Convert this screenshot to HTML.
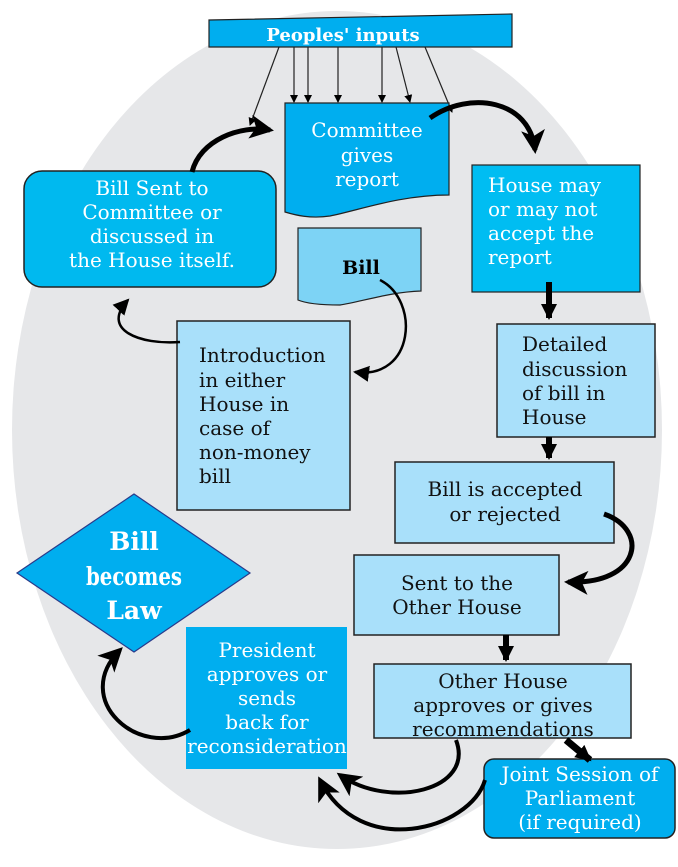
<!DOCTYPE html>
<html><head><style>html,body{margin:0;padding:0;background:#fff}svg{display:block}</style></head>
<body>
<svg width="678" height="867" viewBox="0 0 678 867" xmlns="http://www.w3.org/2000/svg" font-family="'DejaVu Serif', serif">
<defs>
<marker id="sa" markerWidth="8" markerHeight="8" refX="7" refY="4" orient="auto" markerUnits="userSpaceOnUse"><path d="M0,0 L8,4 L0,8 Z" fill="#000"/></marker>
<marker id="ba" markerWidth="30" markerHeight="30" refX="20" refY="12" orient="auto" markerUnits="userSpaceOnUse"><path d="M0,0 L24,12 L0,24 L6,12 Z" fill="#000"/></marker>
<marker id="ma" markerWidth="20" markerHeight="20" refX="14" refY="8" orient="auto" markerUnits="userSpaceOnUse"><path d="M0,0 L16,8 L0,16 Z" fill="#000"/></marker>
</defs>
<ellipse cx="337" cy="430" rx="325" ry="419" fill="#e6e7e9"/>

<polygon points="209,20 512,14 512,47 209,47" fill="#00aeef" stroke="#222" stroke-width="1.2"/>
<text x="343" y="41" fill="#fff" font-weight="bold" font-size="18" text-anchor="middle">Peoples' inputs</text>
<g stroke="#222" stroke-width="1.2" marker-end="url(#sa)">
<line x1="279" y1="47" x2="250" y2="125"/>
<line x1="294" y1="47" x2="294" y2="102"/>
<line x1="308" y1="47" x2="308" y2="102"/>
<line x1="338" y1="47" x2="338" y2="102"/>
<line x1="382" y1="47" x2="382" y2="102"/>
<line x1="396" y1="47" x2="410" y2="102"/>
<line x1="425" y1="47" x2="452" y2="112"/>
</g>

<path d="M285,103 L449,103 L449,195 C400,195 360,210 330,216 C310,219 295,215 285,212 Z" fill="#00aeef" stroke="#222" stroke-width="1.2"/>
<g fill="#fff" font-size="20" text-anchor="middle"><text x="367" y="137">Committee</text><text x="367" y="162">gives</text><text x="367" y="186">report</text></g>

<rect x="24" y="171" width="252" height="116" rx="18" fill="#00b9ef" stroke="#222" stroke-width="1.5"/>
<g fill="#fff" font-size="20" text-anchor="middle"><text x="152" y="195">Bill Sent to</text><text x="152" y="219">Committee or</text><text x="152" y="243">discussed in</text><text x="152" y="267">the House itself.</text></g>

<rect x="472" y="165" width="168" height="127" fill="#00bdf2" stroke="#222" stroke-width="1.2"/>
<g fill="#fff" font-size="20"><text x="488" y="192">House may</text><text x="488" y="216">or may not</text><text x="488" y="240">accept the</text><text x="488" y="264">report</text></g>

<path d="M298,228 L421,228 L421,291 C390,292 360,302 340,305 C320,305 305,303 298,300 Z" fill="#7dd3f5" stroke="#222" stroke-width="1.2"/>
<text x="361" y="274" font-size="19" font-weight="bold" text-anchor="middle">Bill</text>

<rect x="177" y="321" width="173" height="189" fill="#a9e0fa" stroke="#222" stroke-width="1.5"/>
<g font-size="20" fill="#111"><text x="199" y="362">Introduction</text><text x="199" y="387">in either</text><text x="199" y="411">House in</text><text x="199" y="435">case of</text><text x="199" y="459">non-money</text><text x="199" y="483">bill</text></g>

<rect x="497" y="324" width="158" height="113" fill="#a9e0fa" stroke="#222" stroke-width="1.5"/>
<g font-size="20" fill="#111"><text x="522" y="351">Detailed</text><text x="522" y="376">discussion</text><text x="522" y="400">of bill in</text><text x="522" y="424">House</text></g>

<rect x="395" y="462" width="219" height="81" fill="#a9e0fa" stroke="#222" stroke-width="1.5"/>
<g font-size="20" fill="#111" text-anchor="middle"><text x="505" y="496">Bill is accepted</text><text x="505" y="521">or rejected</text></g>

<rect x="354" y="555" width="205" height="80" fill="#a9e0fa" stroke="#222" stroke-width="1.5"/>
<g font-size="20" fill="#111" text-anchor="middle"><text x="457" y="590">Sent to the</text><text x="457" y="614">Other House</text></g>

<rect x="374" y="664" width="257" height="74" fill="#a9e0fa" stroke="#222" stroke-width="1.5"/>
<g font-size="20" fill="#111" text-anchor="middle"><text x="503" y="688">Other House</text><text x="503" y="712">approves or gives</text><text x="503" y="736">recommendations</text></g>

<rect x="484" y="759" width="191" height="79" rx="10" fill="#00aeef" stroke="#222" stroke-width="1.5"/>
<g font-size="20" fill="#fff" text-anchor="middle"><text x="580" y="781">Joint Session of</text><text x="580" y="805">Parliament</text><text x="580" y="829">(if required)</text></g>

<rect x="186" y="627" width="161" height="142" fill="#00aeef"/>
<g font-size="20" fill="#fff" text-anchor="middle"><text x="267" y="657">President</text><text x="267" y="681">approves or</text><text x="267" y="705">sends</text><text x="267" y="729">back for</text><text x="267" y="753">reconsideration</text></g>

<polygon points="17,573 134,494 250,573 134,652" fill="#00aeef" stroke="#2a3a8a" stroke-width="1.2"/>
<g font-size="25" font-weight="bold" fill="#fff" text-anchor="middle"><text x="134" y="550">Bill</text><text x="134" y="585" textLength="96" lengthAdjust="spacingAndGlyphs">becomes</text><text x="134" y="619">Law</text></g>

<g fill="none" stroke="#000" stroke-width="5">
<path d="M192,172 C200,140 240,125 270,130" marker-end="url(#ba)"/>
<path d="M430,118 C470,90 530,100 535,150" marker-end="url(#ba)"/>
<path d="M549,282 L549,318" stroke-width="6" marker-end="url(#ma)"/>
<path d="M549,437 L549,458" stroke-width="6" marker-end="url(#ma)"/>
<path d="M604,514 C650,530 640,585 568,582" marker-end="url(#ba)"/>
<path d="M506,635 L506,660" stroke-width="6" marker-end="url(#ma)"/>
<path d="M566,740 L590,760" stroke-width="7" marker-end="url(#ma)"/>
<path d="M456,740 C475,790 390,810 340,775" stroke-width="4" marker-end="url(#ba)"/>
<path d="M485,780 C470,830 360,860 320,780" stroke-width="4" marker-end="url(#ba)"/>
<path d="M190,730 C140,760 70,700 120,650" stroke-width="4" marker-end="url(#ba)"/>
<path d="M380,280 C420,300 415,380 355,372" stroke-width="2.5" marker-end="url(#ma)"/>
<path d="M180,342 C140,345 100,330 128,300" stroke-width="2.5" marker-end="url(#ma)"/>
</g>
</svg>
</body></html>
